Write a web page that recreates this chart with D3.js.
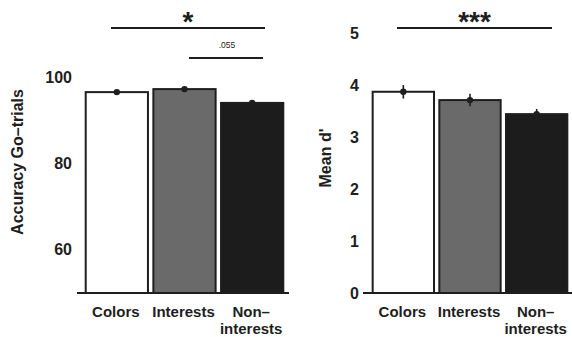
<!DOCTYPE html>
<html><head><meta charset="utf-8">
<script src="https://cdn.jsdelivr.net/npm/d3@7"></script>
<style>
body{margin:0;background:#fff;}
svg{display:block;font-family:"Liberation Sans",Arial,sans-serif;}
</style></head>
<body>
<script>
const categories = ["Colors", "Interests", "Non–interests"];
const categoryLines = [["Colors"], ["Interests"], ["Non–", "interests"]];
const accuracyMeans = [96.5, 97.2, 94.0];
const accuracyErrors = [0.5, 0.4, 0.5];
const dprimeMeans = [3.87, 3.71, 3.44];
const dprimeErrors = [0.13, 0.12, 0.10];
const accuracyTicks = [60, 80, 100];
const dprimeTicks = [0, 1, 2, 3, 4, 5];
const barColors = ["#ffffff", "#6a6a6a", "#1c1c1c"];
const accuracySig = [{from: 0, to: 2, label: "*", level: 0}, {from: 1, to: 2, label: ".055", level: 1}];
const dprimeSig = [{from: 0, to: 2, label: "***", level: 0}];

const W = 572, H = 337;
const svg = d3.select("body").append("svg").attr("width", W).attr("height", H);
const ink = "#1e1e1e";

function panel(opts) {
  const g = svg.append("g");
  const x = d3.scaleBand().domain(categories).range(opts.xRange).paddingInner(0.08).paddingOuter(0.04);
  const y = d3.scaleLinear().domain(opts.domain).range(opts.yRange);

  const ax = g.append("g").attr("transform", `translate(${opts.axisX},0)`)
    .call(d3.axisLeft(y).tickValues(opts.ticks).tickSize(0).tickPadding(opts.tickPad).tickFormat(d3.format("d")));
  ax.select(".domain").remove();
  ax.selectAll("text").attr("font-size", 16).attr("font-weight", "bold").attr("fill", ink)
    .attr("font-family", "'Liberation Sans',Arial,sans-serif");

  g.selectAll("rect.bar").data(opts.means).join("rect").attr("class", "bar")
    .attr("x", (d, i) => x(categories[i]))
    .attr("width", x.bandwidth())
    .attr("y", d => y(d))
    .attr("height", d => y(opts.domain[0]) - y(d))
    .attr("fill", (d, i) => barColors[i])
    .attr("stroke", ink).attr("stroke-width", 2);

  g.append("line").attr("x1", opts.baseX[0]).attr("x2", opts.baseX[1])
    .attr("y1", y(opts.domain[0])).attr("y2", y(opts.domain[0]))
    .attr("stroke", ink).attr("stroke-width", 2);

  g.selectAll("line.err").data(opts.means).join("line").attr("class", "err")
    .attr("x1", (d, i) => x(categories[i]) + x.bandwidth() / 2)
    .attr("x2", (d, i) => x(categories[i]) + x.bandwidth() / 2)
    .attr("y1", (d, i) => y(d + opts.errors[i]))
    .attr("y2", (d, i) => y(d - opts.errors[i]))
    .attr("stroke", ink).attr("stroke-width", 1.6);
  g.selectAll("circle.pt").data(opts.means).join("circle").attr("class", "pt")
    .attr("cx", (d, i) => x(categories[i]) + x.bandwidth() / 2)
    .attr("cy", d => y(d)).attr("r", 3.2).attr("fill", ink);

  categoryLines.forEach((lines, i) => {
    lines.forEach((ln, j) => {
      g.append("text").attr("text-anchor", "middle")
        .attr("font-size", 15).attr("font-weight", "bold").attr("fill", ink)
        .attr("x", x(categories[i]) + x.bandwidth() / 2 - 1)
        .attr("y", 317 + j * 17).text(ln);
    });
  });

  g.append("text").attr("transform", `translate(${opts.titleX},${opts.titleY}) rotate(-90)`)
    .attr("text-anchor", "middle").attr("dominant-baseline", "central")
    .attr("font-size", 16).attr("font-weight", "bold").attr("fill", ink).text(opts.title);

  opts.sig.forEach(s => {
    const ly = opts.sigY[s.level];
    const x1 = opts.sigX[s.level][0], x2 = opts.sigX[s.level][1];
    g.append("line").attr("x1", x1).attr("x2", x2).attr("y1", ly).attr("y2", ly)
      .attr("stroke", ink).attr("stroke-width", 2.2);
    if (s.label.startsWith("*")) {
      g.append("text").attr("x", (x1 + x2) / 2 + opts.starDx).attr("y", ly + 3)
        .attr("text-anchor", "middle").attr("font-size", 28).attr("font-weight", "bold")
        .attr("fill", ink).text(s.label);
    } else {
      g.append("text").attr("x", (x1 + x2) / 2 + 1).attr("y", ly - 10)
        .attr("text-anchor", "middle").attr("font-size", 8.5).attr("fill", ink).text(s.label);
    }
  });
}

panel({
  xRange: [83, 286], domain: [50, 100], yRange: [293, 77], ticks: accuracyTicks,
  axisX: 77, tickPad: 5, baseX: [77, 289], means: accuracyMeans, errors: accuracyErrors,
  title: "Accuracy Go–trials", titleX: 17, titleY: 162,
  sig: accuracySig, sigY: [28, 58], sigX: [[111, 265], [189, 263]], starDx: 0
});
panel({
  xRange: [370, 570], domain: [0, 5], yRange: [293, 33], ticks: dprimeTicks,
  axisX: 363, tickPad: 4, baseX: [363, 572], means: dprimeMeans, errors: dprimeErrors,
  title: "Mean d'", titleX: 325, titleY: 158,
  sig: dprimeSig, sigY: [28], sigX: [[397, 552]], starDx: 0
});
</script>
</body></html>
